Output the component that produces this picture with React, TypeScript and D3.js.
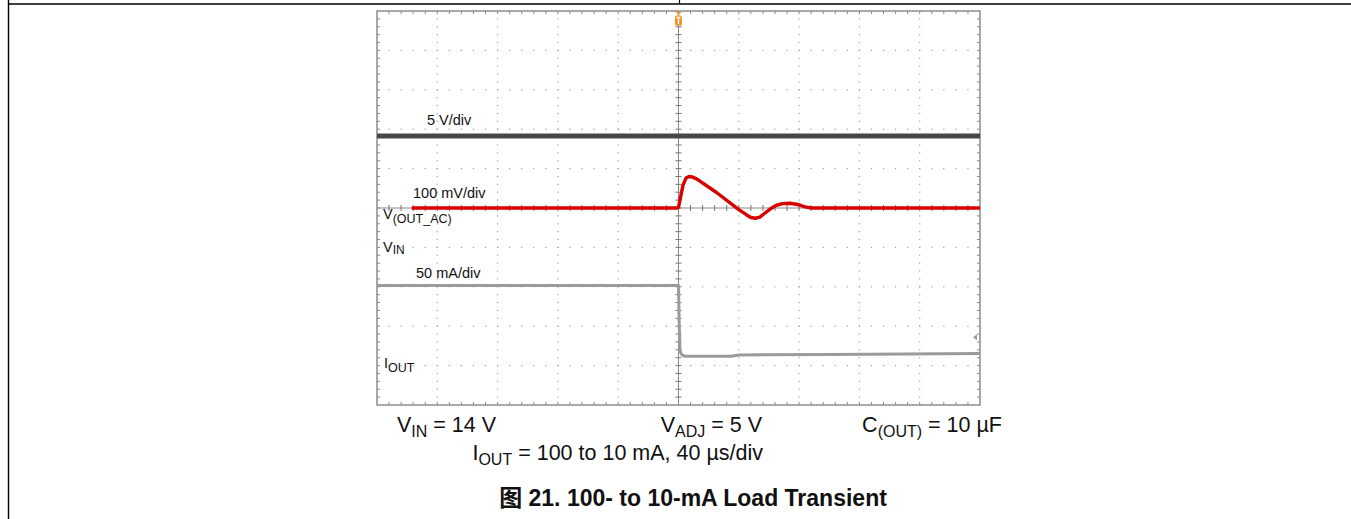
import React from 'react';
import * as d3 from 'd3';

// Horizontal: time in µs (40 µs/div, 10 div); Vertical: screen divisions (10 div)
const timeDomain: [number, number] = [-200, 200];
const divDomain: [number, number] = [-5, 5];

// CH: V_IN (5 V/div)
const vinTime = [-200, 200];
const vinDiv = [1.83, 1.83];

// CH: V(OUT_AC) (100 mV/div)
const voutTime = [-177, -120, -60, -1, 0, 1.5, 3, 5, 7, 9, 12, 25, 40, 45, 48, 51, 54, 57, 61, 65, 69, 74, 79, 84, 88, 140, 200];
const voutDiv = [0, 0, 0, 0, 0.02, 0.3, 0.58, 0.76, 0.8, 0.79, 0.74, 0.4, -0.04, -0.17, -0.24, -0.26, -0.23, -0.14, -0.02, 0.07, 0.11, 0.12, 0.09, 0.03, 0, 0, 0];

// CH: I_OUT (50 mA/div)
const ioutTime = [-200, 0, 0.5, 1, 2, 4, 35, 40, 100, 200];
const ioutDiv = [-1.97, -1.97, -3.0, -3.62, -3.72, -3.76, -3.76, -3.73, -3.72, -3.69];

const majorTimeTicks = d3.range(-160, 161, 40).filter((t) => t !== 0);
const minorTimeTicks = d3.range(-192, 193, 8);
const majorDivTicks = d3.range(-4, 5, 1).filter((d) => d !== 0);
const minorDivTicks = d3.range(-4.8, 4.81, 0.2);

const FONT = '"Liberation Sans", Arial, "Noto Sans CJK SC", sans-serif';

export default function App() {
  const x = d3.scaleLinear().domain(timeDomain).range([377, 980]);
  const y = d3.scaleLinear().domain(divDomain).range([405, 11]);
  const line = d3
    .line<[number, number]>()
    .x((d) => x(d[0]))
    .y((d) => y(d[1]));
  const zip = (a: number[], b: number[]) => a.map((v, i) => [v, b[i]] as [number, number]);

  const x0 = x(0);
  const y0 = y(0);
  const [L, R] = x.range();
  const [B, T] = y.range();

  return (
    <svg
      width={1351}
      height={519}
      style={{ position: 'absolute', left: 0, top: 0, background: '#fff' }}
      fontFamily={FONT}
    >
      {/* page frame */}
      <line x1={8} y1={4} x2={1351} y2={4} stroke="#000" strokeWidth={1.4} />
      <line x1={8.5} y1={0} x2={8.5} y2={519} stroke="#000" strokeWidth={1.4} />
      <line x1={679.5} y1={0} x2={679.5} y2={4} stroke="#000" strokeWidth={1.2} />

      {/* grid dots on horizontal major lines */}
      {majorDivTicks.map((d) =>
        minorTimeTicks.map((t) => (
          <rect key={`h${d}_${t}`} x={x(t) - 0.6} y={y(d) - 0.6} width={1.2} height={1.2} fill="#a0a0a0" />
        ))
      )}
      {/* grid dots on vertical major lines */}
      {majorTimeTicks.map((t) =>
        minorDivTicks.map((d) => (
          <rect key={`v${t}_${d}`} x={x(t) - 0.6} y={y(d) - 0.6} width={1.2} height={1.2} fill="#a0a0a0" />
        ))
      )}

      {/* center axes */}
      <line x1={x0} y1={T} x2={x0} y2={B} stroke="#8a8a8a" strokeWidth={1} />
      <line x1={L} y1={y0} x2={R} y2={y0} stroke="#8a8a8a" strokeWidth={1} />
      {minorDivTicks.map((d) => (
        <line key={`cy${d}`} x1={x0 - 3} x2={x0 + 3} y1={y(d)} y2={y(d)} stroke="#777" strokeWidth={1} />
      ))}
      {minorTimeTicks.map((t) => (
        <line key={`cx${t}`} x1={x(t)} x2={x(t)} y1={y0 - 3} y2={y0 + 3} stroke="#777" strokeWidth={1} />
      ))}

      {/* border ticks */}
      {minorTimeTicks.map((t) => (
        <g key={`bt${t}`} stroke="#888" strokeWidth={1}>
          <line x1={x(t)} x2={x(t)} y1={T} y2={T + 3} />
          <line x1={x(t)} x2={x(t)} y1={B} y2={B - 3} />
        </g>
      ))}
      {minorDivTicks.map((d) => (
        <g key={`bd${d}`} stroke="#888" strokeWidth={1}>
          <line x1={L} x2={L + 3} y1={y(d)} y2={y(d)} />
          <line x1={R} x2={R - 3} y1={y(d)} y2={y(d)} />
        </g>
      ))}
      {/* plot border */}
      <rect x={L} y={T} width={R - L} height={B - T} fill="none" stroke="#8c8c8c" strokeWidth={1.5} />

      {/* traces */}
      <path d={line(zip(vinTime, vinDiv)) || ''} fill="none" stroke="#474747" strokeWidth={5} />
      <path d={line(zip(ioutTime, ioutDiv)) || ''} fill="none" stroke="#9b9b9b" strokeWidth={3} strokeLinejoin="round" />
      <path d={line(zip(voutTime, voutDiv)) || ''} fill="none" stroke="#d80000" strokeWidth={3.4} strokeLinejoin="round" />

      {/* trigger marker */}
      <path d={`M${x0 - 3},${T + 1} L${x0 + 3},${T + 1} L${x0},${T + 4} Z`} fill="#f0962a" />
      <rect x={x0 - 3.5} y={T + 4.5} width={7} height={10} rx={1.5} fill="#f0962a" />
      <path d={`M${x0 - 2},${T + 6.5} L${x0 + 2},${T + 6.5} M${x0},${T + 6.5} L${x0},${T + 13}`} stroke="#fff" strokeWidth={1.3} />
      {/* ground marker for current channel */}
      <path d={`M${R - 7},${y(-3.28)} L${R - 3},${y(-3.28) - 3} L${R - 3},${y(-3.28) + 3} Z`} fill="#999" />

      {/* channel labels */}
      <g fontSize={14.5} fill="#111">
        <text x={427} y={125}>5 V/div</text>
        <text x={413} y={198}>100 mV/div</text>
        <text x={383} y={219}>
          V<tspan fontSize={12.5} dy={4}>(OUT_AC)</tspan>
        </text>
        <text x={383} y={252}>
          V<tspan fontSize={12} dy={2}>IN</tspan>
        </text>
        <text x={416} y={278}>50 mA/div</text>
        <text x={384} y={368}>
          I<tspan fontSize={12.5} dy={4}>OUT</tspan>
        </text>
      </g>

      {/* conditions */}
      <g fontSize={21.5} fill="#111">
        <text x={397} y={432}>
          V<tspan fontSize={16} dy={5}>IN</tspan>
          <tspan dy={-5}> = 14 V</tspan>
        </text>
        <text x={762} y={432} textAnchor="end">
          V<tspan fontSize={16} dy={5}>ADJ</tspan>
          <tspan dy={-5}> = 5 V</tspan>
        </text>
        <text x={1002} y={432} textAnchor="end">
          C<tspan fontSize={16} dy={5}>(OUT)</tspan>
          <tspan dy={-5}> = 10 µF</tspan>
        </text>
        <text x={763} y={460} textAnchor="end">
          I<tspan fontSize={16} dy={5}>OUT</tspan>
          <tspan dy={-5}> = 100 to 10 mA, 40 µs/div</tspan>
        </text>
      </g>

      {/* caption */}
      <text x={693} y={506} textAnchor="middle" fontSize={23} fontWeight="bold" fill="#111">
        图 21. 100- to 10-mA Load Transient
      </text>
    </svg>
  );
}
